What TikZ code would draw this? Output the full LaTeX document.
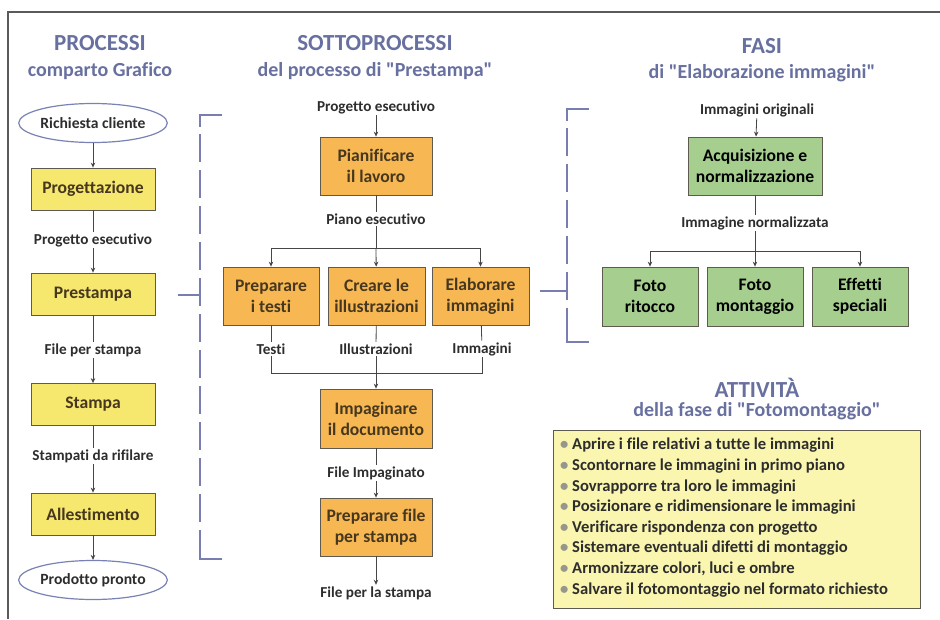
\documentclass[tikz,border=0pt]{standalone}
\usepackage{fontspec}
\setmainfont{Carlito}[Ligatures={NoCommon}]
\usetikzlibrary{shapes.geometric,arrows.meta,calc}
\definecolor{ttl}{RGB}{104,112,160}
\definecolor{framec}{RGB}{90,90,90}
\definecolor{brk}{RGB}{120,126,176}
\definecolor{yel}{RGB}{246,232,110}
\definecolor{org}{RGB}{247,184,84}
\definecolor{grn}{RGB}{166,206,142}
\definecolor{act}{RGB}{250,246,176}
\definecolor{bord}{RGB}{95,90,80}
\definecolor{txt}{RGB}{70,55,30}
\definecolor{lbl}{RGB}{45,45,45}
\definecolor{lnc}{RGB}{70,70,70}
\definecolor{elc}{RGB}{120,130,180}
\definecolor{bul}{RGB}{150,150,140}
\newcommand{\dq}{\textquotedbl}
\begin{document}
\begin{tikzpicture}[x=1pt,y=-1pt,
  ttlA/.style={font=\fontsize{23}{26}\selectfont\bfseries, text=ttl, inner sep=0pt},
  ttlB/.style={font=\fontsize{20}{23}\selectfont\bfseries, text=ttl, inner sep=0pt},
  boxbase/.style={draw=bord, line width=0.8pt, align=center, text=txt, inner sep=1pt,
     font=\fontsize{17.6}{21}\selectfont\bfseries},
  ybox/.style={boxbase, fill=yel, minimum width=124pt, minimum height=42pt},
  obox/.style={boxbase, fill=org, minimum height=58pt},
  gbox/.style={boxbase, fill=grn, minimum height=58pt, text={RGB,255:red,50;green,60;blue,35}},
  ell/.style={ellipse, draw=elc, line width=1.2pt, fill=white, minimum width=136pt, minimum height=39pt,
     inner sep=0pt, text=lbl, font=\fontsize{15.6}{18}\selectfont\bfseries},
  lab/.style={text=lbl, inner sep=1.5pt, font=\fontsize{15.2}{18}\selectfont\bfseries},
  con/.style={draw=lnc, line width=0.8pt},
  arr/.style={con, -{Stealth[length=5pt,width=4.5pt]}},
  brkline/.style={draw=brk, line width=1.3pt},
  brkdash/.style={draw=brk, line width=1.3pt, dash pattern=on 28pt off 8pt}
]
\useasboundingbox (0,0) rectangle (940,619);
\fill[white] (0,0) rectangle (940,619);
\draw[framec, line width=1.2pt] (8,619) -- (8,12) -- (940,12);

% ---------- titles
\node[ttlA] (h1a) at (100,43) {PROCESSI};
\node[ttlB] (h1b) at (100,71) {comparto Grafico};
\node[ttlA] (h2a) at (375,43) {SOTTOPROCESSI};
\node[ttlB] (h2b) at (375,71) {del processo di \dq Prestampa\dq};
\node[ttlA] (h3a) at (762,46) {FASI};
\node[ttlB] (h3b) at (762,73) {di \dq Elaborazione immagini\dq};
\node[ttlA] (h4a) at (757,388) {ATTIVITÀ};
\node[ttlB] (h4b) at (757,411) {della fase di \dq Fotomontaggio\dq};

% ---------- left column
\node[ell] (rc) at (93,123) {Richiesta cliente};
\node[ybox] (prog) at (93,189) {Progettazione};
\node[lab] (l1) at (93,240) {Progetto esecutivo};
\node[ybox] (prest) at (93,294) {Prestampa};
\node[lab] (l2) at (93,350) {File per stampa};
\node[ybox] (stam) at (93,404.5) {Stampa};
\node[lab] (l3) at (93,456) {Stampati da rifilare};
\node[ybox] (alle) at (93,514) {Allestimento};
\node[ell] (pp) at (93,580) {Prodotto pronto};

\draw[arr] (rc) -- (prog);
\draw[con] (prog) -- (l1);
\draw[arr] (l1) -- (prest);
\draw[con] (prest) -- (l2);
\draw[arr] (l2) -- (stam);
\draw[con] (stam) -- (l3);
\draw[arr] (l3) -- (alle);
\draw[arr] (alle) -- (pp);

% bracket 1
\coordinate (b1t) at (200,115);
\coordinate (b1b) at (200,559);
\coordinate (b1m) at (200,295);
\draw[brkline] (222,115) -- (b1t) -- (200,127);
\draw[brkdash] (200,134) -- (200,548);
\draw[brkline] (200,548) -- (b1b) -- (222,559);
\draw[brkline] ([xshift=23pt]prest.east |- b1m) -- (b1m);

% ---------- middle column
\node[lab] (pe) at (376,107) {Progetto esecutivo};
\node[obox, minimum width=112pt] (pian) at (376,166) {Pianificare\\il lavoro};
\node[lab] (pl) at (376,219) {Piano esecutivo};
\coordinate (j1) at (376,248);
\node[obox, minimum width=96pt] (s1) at (271,296) {Preparare\\i testi};
\node[obox, minimum width=97pt] (s2) at (376.5,296) {Creare le\\illustrazioni};
\node[obox, minimum width=97pt] (s3) at (480.5,296) {Elaborare\\immagini};
\node[lab] (o1) at (271,349) {Testi};
\node[lab] (o2) at (376,349) {Illustrazioni};
\node[lab] (o3) at (482,349) {Immagini};
\coordinate (j2) at (376,373);
\node[obox, minimum width=112pt, minimum height=59pt] (imp) at (376,418.5) {Impaginare\\il documento};
\node[lab] (fi) at (376,473) {File Impaginato};
\node[obox, minimum width=112pt] (pf) at (376,527) {Preparare file\\per stampa};
\node[lab] (fs) at (376,593) {File per la stampa};

\draw[arr] (pe) -- (pian);
\draw[con] (pian) -- (pl);
\draw[con] (pl) -- (j1);
\draw[arr] (j1) -| (s1);
\draw[arr] (j1) -- (s2);
\draw[arr] (j1) -| (s3);
\draw[con] (s1) -- (o1);
\draw[con] (s2) -- (o2);
\draw[con] (s3) -- (o3);
\draw[con] (o1) |- (j2);
\draw[con] (o3) |- (j2);
\draw[con] (o2) -- (j2);
\draw[arr] (j2) -- (imp);
\draw[con] (imp) -- (fi);
\draw[arr] (fi) -- (pf);
\draw[arr] (pf) -- (fs);

% bracket 2
\coordinate (b2t) at (567,109);
\coordinate (b2b) at (567,342);
\coordinate (b2m) at (567,291);
\draw[brkline] (589,109) -- (b2t) -- (567,121);
\draw[brkdash] (567,128) -- (567,331);
\draw[brkline] (567,331) -- (b2b) -- (589,342);
\draw[brkline] ([xshift=11pt]s3.east |- b2m) -- (b2m);

% ---------- right column
\node[lab] (io) at (757,110) {Immagini originali};
\node[gbox, minimum width=134pt] (acq) at (755,166) {Acquisizione e\\normalizzazione};
\node[lab] (inn) at (755,223) {Immagine normalizzata};
\coordinate (j3) at (755,251);
\node[gbox, minimum width=96pt, minimum height=59pt] (f1) at (650,296.5) {Foto\\ritocco};
\node[gbox, minimum width=96pt, minimum height=59pt] (f2) at (755,296.5) {Foto\\montaggio};
\node[gbox, minimum width=96pt, minimum height=59pt] (f3) at (860,296.5) {Effetti\\speciali};

\draw[arr] (io) -- (acq);
\draw[con] (acq) -- (inn);
\draw[con] (inn) -- (j3);
\draw[arr] (j3) -| (f1);
\draw[arr] (j3) -- (f2);
\draw[arr] (j3) -| (f3);

% ---------- activities
\node[draw=bord, line width=0.8pt, fill=act, minimum width=367pt, minimum height=178pt,
      inner sep=0pt] (actbox) at (736.5,519) {};
\node[anchor=north west, align=left, inner sep=0pt, text=lbl,
      font=\fontsize{16.6}{20.6}\selectfont\bfseries] (items) at (560,438) {%
\textcolor{bul}{\textbullet}\ Aprire i file relativi a tutte le immagini\\
\textcolor{bul}{\textbullet}\ Scontornare le immagini in primo piano\\
\textcolor{bul}{\textbullet}\ Sovrapporre tra loro le immagini\\
\textcolor{bul}{\textbullet}\ Posizionare e ridimensionare le immagini\\
\textcolor{bul}{\textbullet}\ Verificare rispondenza con progetto\\
\textcolor{bul}{\textbullet}\ Sistemare eventuali difetti di montaggio\\
\textcolor{bul}{\textbullet}\ Armonizzare colori, luci e ombre\\
\textcolor{bul}{\textbullet}\ Salvare il fotomontaggio nel formato richiesto};
\end{tikzpicture}
\end{document}
